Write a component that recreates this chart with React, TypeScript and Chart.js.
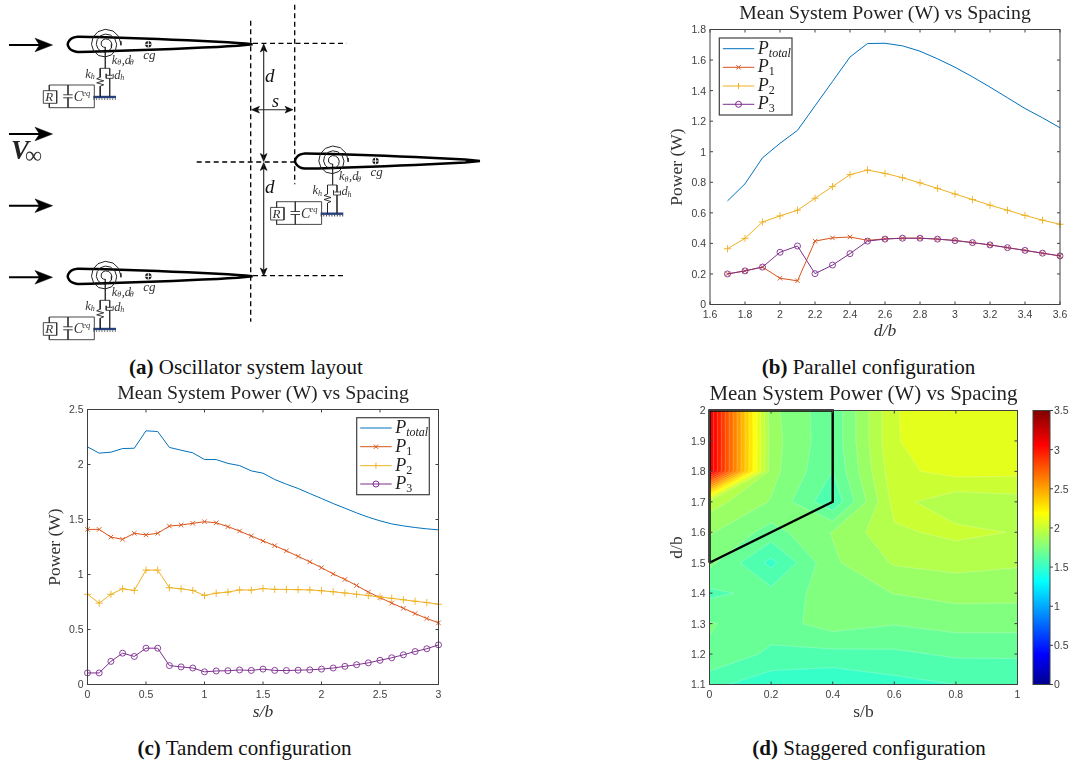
import { useEffect, useRef } from 'react';
import { Chart, registerables } from 'chart.js';

Chart.register(...registerables);

// ---------- data: panel (b) parallel ----------
const dOverB = [1.7, 1.8, 1.9, 2.0, 2.1, 2.2, 2.3, 2.4, 2.5, 2.6, 2.7, 2.8, 2.9, 3.0, 3.1, 3.2, 3.3, 3.4, 3.5, 3.6];
const parTotal = [0.678, 0.79, 0.96, 1.055, 1.14, 1.3, 1.46, 1.62, 1.708, 1.71, 1.693, 1.658, 1.608, 1.553, 1.49, 1.423, 1.353, 1.283, 1.222, 1.157];
const parP1 = [0.2, 0.22, 0.245, 0.172, 0.155, 0.415, 0.436, 0.442, 0.42, 0.43, 0.434, 0.434, 0.428, 0.42, 0.405, 0.39, 0.372, 0.354, 0.336, 0.318];
const parP2 = [0.365, 0.433, 0.54, 0.58, 0.617, 0.695, 0.772, 0.85, 0.88, 0.858, 0.83, 0.796, 0.76, 0.723, 0.687, 0.65, 0.617, 0.583, 0.552, 0.525];
const parP3 = [0.2, 0.22, 0.245, 0.342, 0.383, 0.202, 0.258, 0.333, 0.415, 0.428, 0.434, 0.434, 0.428, 0.418, 0.405, 0.39, 0.372, 0.354, 0.336, 0.318];

// ---------- data: panel (c) tandem ----------
const sOverB = [0, 0.1, 0.2, 0.3, 0.4, 0.5, 0.6, 0.7, 0.8, 0.9, 1, 1.1, 1.2, 1.3, 1.4, 1.5, 1.6, 1.7, 1.8, 1.9, 2, 2.1, 2.2, 2.3, 2.4, 2.5, 2.6, 2.7, 2.8, 2.9, 3];
const tanTotal = [2.16, 2.103, 2.112, 2.145, 2.148, 2.306, 2.3, 2.155, 2.13, 2.106, 2.045, 2.045, 2.01, 1.99, 1.942, 1.921, 1.864, 1.821, 1.782, 1.736, 1.691, 1.645, 1.603, 1.56, 1.521, 1.488, 1.46, 1.442, 1.427, 1.415, 1.406];
const tanP1 = [1.41, 1.41, 1.34, 1.32, 1.375, 1.36, 1.375, 1.44, 1.45, 1.465, 1.48, 1.47, 1.435, 1.395, 1.35, 1.305, 1.262, 1.215, 1.165, 1.115, 1.062, 1.005, 0.955, 0.9, 0.84, 0.79, 0.74, 0.693, 0.645, 0.6, 0.56];
const tanP2 = [0.82, 0.74, 0.82, 0.87, 0.855, 1.04, 1.04, 0.88, 0.87, 0.855, 0.81, 0.83, 0.84, 0.86, 0.858, 0.872, 0.865, 0.864, 0.862, 0.86, 0.852, 0.843, 0.832, 0.82, 0.808, 0.795, 0.783, 0.77, 0.757, 0.745, 0.73];
const tanP3 = [0.105, 0.105, 0.21, 0.285, 0.255, 0.33, 0.33, 0.172, 0.16, 0.15, 0.115, 0.123, 0.125, 0.132, 0.128, 0.14, 0.128, 0.127, 0.13, 0.133, 0.14, 0.15, 0.165, 0.18, 0.197, 0.22, 0.243, 0.27, 0.3, 0.325, 0.36];

// ---------- data: panel (d) staggered contour ----------
const gridS = [0, 0.2, 0.4, 0.6, 0.8, 1];
const gridD = [1.1, 1.2, 1.3, 1.4, 1.5, 1.6, 1.7, 1.8, 1.9, 2.0];
const gridPower = [
  [1.61, 1.53, 1.51, 1.556, 1.585, 1.61],
  [1.745, 1.651, 1.645, 1.653, 1.683, 1.68],
  [1.761, 1.714, 1.794, 1.76, 1.786, 1.787],
  [1.65, 1.7, 1.796, 1.842, 1.869, 1.865],
  [1.78, 1.56, 1.825, 1.934, 1.954, 1.937],
  [1.85, 1.72, 1.845, 1.995, 2.032, 2.005],
  [1.965, 1.833, 1.6, 2.04, 1.951, 1.975],
  [3.2, 1.87, 1.67, 2.071, 2.127, 2.117],
  [3.2, 1.875, 1.69, 2.09, 2.14, 2.13],
  [3.2, 1.866, 1.69, 2.09, 2.15, 2.13],
];
const contourLevels = [1.5, 1.585, 1.67, 1.755, 1.84, 1.925, 2.01, 2.095, 2.18, 2.265, 2.35, 2.435, 2.52, 2.605, 2.69, 2.775, 2.86, 2.945, 3.03, 3.115];
const regionS = [0, 0.4, 0.4, 0, 0];
const regionD = [1.5, 1.7, 2, 2, 1.5];
const colorbarRange = [0, 3.5];
const jetStops = ['#00008f', '#0000ff', '#00ffff', '#ffff00', '#ff0000', '#800000'];
const jetStopAt = [0, 0.11, 0.375, 0.625, 0.875, 1];

// ---------- data: panel (a) diagram, in diagram units ----------
const flowArrowY = [45, 134, 205.7, 277.3];
const foilOrigins = [[67.7, 44.3], [295, 161], [67.7, 276.3]];
const foilShape = [[185, 0], [170, -1.4], [150, -2.6], [120, -4], [90, -5.2], [60, -6.2], [30, -7.2], [10, -7.6], [5, -6.4], [1.5, -3.6], [0, 0], [1.5, 3.6], [5, 6.4], [10, 7.6], [30, 7.2], [60, 6.2], [90, 5.2], [120, 4], [150, 2.6], [170, 1.4], [185, 0]];
const spiralCentre = 37.6;
const spiralShape = [[0, 3], [-1.7, 2.9], [-3.3, 1.9], [-4.2, 0], [-4, -2.3], [-2.5, -4.3], [0, -5.4], [2.9, -5], [5.4, -3.1], [6.6, 0], [6.1, 3.5], [3.7, 6.4], [0, 7.8], [-4.1, 7.1], [-7.4, 4.3], [-9, 0], [-8.1, -4.7], [-4.9, -8.5], [0, -10.2], [5.3, -9.2], [9.5, -5.5], [11.4, 0], [10.2, 5.9], [6.1, 10.6], [0, 12.6], [-6.5, 11.3], [-11.6, 6.7], [-13.8, 0], [-12.3, -7.1], [-7.3, -12.6], [0, -15], [7.7, -13.3], [13.5, -7.8], [15.6, 0]];
const springShape = [[32.5, 24], [32.5, 33], [29, 34.5], [36, 36.5], [29, 38.5], [36, 40.5], [32.5, 42], [32.5, 52.7]];
const wireShapes = [
  [[37.6, 3], [37.6, 24]], [[32.5, 24], [42, 24]], [[42, 24], [42, 31]], [[39.3, 31], [44.7, 31]],
  [[38.5, 29.5], [38.5, 34], [45.5, 34], [45.5, 29.5]], [[42, 34], [42, 52.7]],
  [[26.6, 52.7], [26.6, 40.7], [-18.4, 40.7], [-18.4, 46.4]], [[-18.4, 59], [-18.4, 63.4], [26.6, 63.4], [26.6, 52.7]],
  [[-24.4, 46.4], [-11, 46.4], [-11, 59], [-24.4, 59], [-24.4, 46.4]],
  [[0.3, 40.7], [0.3, 50.5]], [[0.3, 53.5], [0.3, 63.4]], [[-4.5, 50.5], [5, 50.5]], [[-4.5, 53.5], [5, 53.5]],
  [[53.2, -3], [53.2, 1]],
];
const dashedLines = [
  [[250.7, 20.7], [250.7, 321.7]], [[294.7, 4.7], [294.7, 184.3]],
  [[253, 43.3], [346.7, 43.3]], [[196.7, 162], [295, 162]], [[253, 275.7], [344, 275.7]],
];
const foilLabels = [
  { t: 'k', x: 44, y: 16, s: 12.5 }, { t: 'θ', x: 49.5, y: 19, s: 8 }, { t: ',d', x: 54, y: 16, s: 12.5 }, { t: 'θ', x: 62, y: 19, s: 8 },
  { t: 'k', x: 17.5, y: 30, s: 12.5 }, { t: 'h', x: 23, y: 33, s: 8 }, { t: 'd', x: 46.5, y: 31, s: 12.5 }, { t: 'h', x: 52.5, y: 33.5, s: 8 },
  { t: 'R', x: -22.5, y: 53.5, s: 13 }, { t: 'C', x: 6, y: 53, s: 14 }, { t: 'eq', x: 14.5, y: 49, s: 8.5 }, { t: 'cg', x: 75.5, y: 11.5, s: 13 },
];
const dimLabels = [
  { t: 'd', x: 265, y: 77, s: 19 }, { t: 'd', x: 265, y: 188, s: 19 }, { t: 's', x: 272, y: 102, s: 18 },
];

// ---------- styles ----------
const SERIES = ['#0072BD', '#D95319', '#EDB120', '#7E2F8E'];
const AXIS = '#404040';
const SERIF = '"Liberation Serif"';
const SANS = '"Liberation Sans"';

function jet(v: number) {
  const t = v / 3.5;
  const c = (x: number) => Math.round(255 * Math.max(0, Math.min(1, x)));
  return `rgb(${c(Math.min(4 * t - 1.5, 4.5 - 4 * t))},${c(Math.min(4 * t - 0.5, 3.5 - 4 * t))},${c(Math.min(4 * t + 0.5, 2.5 - 4 * t))})`;
}

function framePlugin(tickOut = false) {
  return {
    id: 'frame',
    afterDatasetsDraw(chart: any) {
      const { ctx, chartArea: a, scales } = chart;
      ctx.save();
      ctx.strokeStyle = AXIS;
      ctx.lineWidth = 1;
      ctx.strokeRect(a.left, a.top, a.right - a.left, a.bottom - a.top);
      ctx.beginPath();
      const L = 3;
      if (scales.x && scales.x.options.display !== false) {
        scales.x.ticks.forEach((_: any, i: number) => {
          const px = scales.x.getPixelForTick(i);
          ctx.moveTo(px, a.bottom); ctx.lineTo(px, a.bottom - L);
          ctx.moveTo(px, a.top); ctx.lineTo(px, a.top + L);
        });
      }
      scales.y.ticks.forEach((_: any, i: number) => {
        const py = scales.y.getPixelForTick(i);
        if (tickOut) {
          ctx.moveTo(a.right, py); ctx.lineTo(a.right + L, py);
        } else {
          ctx.moveTo(a.left, py); ctx.lineTo(a.left + L, py);
          ctx.moveTo(a.right, py); ctx.lineTo(a.right - L, py);
        }
      });
      ctx.stroke();
      ctx.restore();
    },
  };
}

function legendPlugin(box: { x: number; y: number; w: number; h: number; rows: number[] }) {
  return {
    id: 'mathLegend',
    afterDatasetsDraw(chart: any) {
      const { ctx } = chart;
      ctx.save();
      ctx.fillStyle = '#fff';
      ctx.strokeStyle = AXIS;
      ctx.lineWidth = 1.2;
      ctx.fillRect(box.x, box.y, box.w, box.h);
      ctx.strokeRect(box.x, box.y, box.w, box.h);
      chart.data.datasets.forEach((ds: any, i: number) => {
        const y = box.rows[i];
        const x0 = box.x + 3.5, x1 = box.x + 35, xm = (x0 + x1) / 2;
        ctx.strokeStyle = ds.borderColor;
        ctx.lineWidth = 1;
        ctx.beginPath();
        ctx.moveTo(x0, y); ctx.lineTo(x1, y);
        const r = ds.pointRadius;
        if (ds.pointStyle === 'crossRot') {
          ctx.moveTo(xm - 2.2, y - 2.2); ctx.lineTo(xm + 2.2, y + 2.2);
          ctx.moveTo(xm - 2.2, y + 2.2); ctx.lineTo(xm + 2.2, y - 2.2);
        } else if (ds.pointStyle === 'cross') {
          ctx.moveTo(xm, y - 3); ctx.lineTo(xm, y + 3);
        } else if (ds.pointStyle === 'circle' && r > 0) {
          ctx.moveTo(xm + r, y); ctx.arc(xm, y, r, 0, Math.PI * 2);
        }
        ctx.stroke();
        const [main, sub] = ds.label.split('_');
        ctx.fillStyle = '#222';
        ctx.textBaseline = 'alphabetic';
        ctx.textAlign = 'left';
        ctx.font = `italic 18px ${SERIF}`;
        const tx = box.x + 38.5;
        ctx.fillText(main, tx, y + 5);
        const w = ctx.measureText(main).width;
        ctx.font = `${/\d/.test(sub) ? '' : 'italic '}12px ${SERIF}`;
        ctx.fillText(sub, tx + w, y + 8);
      });
      ctx.restore();
    },
  };
}

type Panel = {
  x0: number; y0: number; W: number; H: number;
  l: number; t: number; r: number; b: number;
  titleCY: number; titleSize: number; yW: number; xH: number;
};

function frameLayout(p: Panel) {
  const lh = p.titleSize * 1.2;
  const top = p.titleCY - p.y0 - lh / 2;
  return {
    layout: { autoPadding: false, padding: { left: p.l - p.x0 - p.yW, right: p.x0 + p.W - p.r, top: 0, bottom: p.y0 + p.H - p.b - p.xH } },
    title: {
      display: true,
      text: 'Mean System Power (W) vs Spacing',
      color: '#222',
      fullSize: false,
      font: { family: SERIF, size: p.titleSize, weight: 'normal' as const, lineHeight: 1.2 },
      padding: { top, bottom: p.t - p.y0 - lh - top },
    },
  };
}

const fmt = (v: any) => String(+Number(v).toFixed(2));

function axis(p: Panel, horizontal: boolean, min: number, max: number, step: number, title: string, italic: boolean) {
  return {
    type: 'linear' as const,
    min, max,
    grid: { display: false, drawTicks: false },
    border: { display: false },
    ticks: {
      stepSize: step, callback: fmt, autoSkip: false, maxRotation: 0, minRotation: 0, padding: horizontal ? 4.5 : 4,
      labelOffset: horizontal ? 0 : 1,
      color: AXIS, font: { family: SANS, size: 10.5, lineHeight: 1.2 },
    },
    title: {
      display: true, text: title, color: '#333', padding: 0,
      font: { family: SERIF, size: 17.5, style: (italic ? 'italic' : 'normal') as any, lineHeight: 1.2 },
    },
    afterFit: (s: any) => {
      if (horizontal) { s.height = p.xH; s.paddingLeft = 0; s.paddingRight = 0; }
      else { s.width = p.yW; s.paddingTop = 0; s.paddingBottom = 0; }
    },
  };
}

function powerChart(canvas: HTMLCanvasElement, p: Panel, xs: number[], series: number[][], xr: number[], yr: number[], xTitle: string, box: any) {
  const styles = [
    { pointStyle: false, pointRadius: 0 },
    { pointStyle: 'crossRot', pointRadius: 3.2 },
    { pointStyle: 'cross', pointRadius: 3.6 },
    { pointStyle: 'circle', pointRadius: 3 },
  ];
  const labels = ['P_total', 'P_1', 'P_2', 'P_3'];
  const f = frameLayout(p);
  return new Chart(canvas, {
    type: 'scatter',
    data: {
      datasets: series.map((v, i) => ({
        label: labels[i],
        order: series.length - i,
        data: xs.map((x, k) => ({ x, y: v[k] })),
        showLine: true,
        borderColor: SERIES[i],
        pointBorderColor: SERIES[i],
        backgroundColor: 'transparent',
        pointBackgroundColor: 'transparent',
        borderWidth: 1,
        pointBorderWidth: 0.9,
        clip: false as any,
        ...styles[i],
      })),
    } as any,
    options: {
      responsive: false,
      animation: false,
      layout: f.layout,
      scales: {
        x: axis(p, true, xr[0], xr[1], xr[2], xTitle, true),
        y: axis(p, false, yr[0], yr[1], yr[2], 'Power (W)', false),
      },
      plugins: { legend: { display: false }, tooltip: { enabled: false }, title: f.title },
    } as any,
    plugins: [framePlugin(), legendPlugin(box)] as any,
  });
}

function clipAbove(poly: any[], level: number) {
  const out: any[] = [];
  for (let i = 0; i < poly.length; i++) {
    const a = poly[i], b = poly[(i + 1) % poly.length];
    if (a.z >= level) out.push(a);
    if ((a.z >= level) !== (b.z >= level)) {
      const f = (level - a.z) / (b.z - a.z);
      out.push({ x: a.x + f * (b.x - a.x), y: a.y + f * (b.y - a.y), z: level, on: level });
    }
  }
  return out;
}

const contourPlugin = {
  id: 'contourBands',
  beforeDatasetsDraw(chart: any) {
    const { ctx, chartArea: a, scales } = chart;
    const px = (s: number) => scales.x.getPixelForValue(s);
    const py = (d: number) => scales.y.getPixelForValue(d);
    ctx.save();
    ctx.fillStyle = jet(contourLevels[0]);
    ctx.fillRect(a.left, a.top, a.right - a.left, a.bottom - a.top);
    contourLevels.slice(1).forEach((level) => {
      const segs: any[] = [];
      ctx.beginPath();
      for (let j = 0; j < gridD.length - 1; j++) {
        for (let i = 0; i < gridS.length - 1; i++) {
          const quad = [
            { x: px(gridS[i]), y: py(gridD[j]), z: gridPower[j][i] },
            { x: px(gridS[i + 1]), y: py(gridD[j]), z: gridPower[j][i + 1] },
            { x: px(gridS[i + 1]), y: py(gridD[j + 1]), z: gridPower[j + 1][i + 1] },
            { x: px(gridS[i]), y: py(gridD[j + 1]), z: gridPower[j + 1][i] },
          ];
          const poly = clipAbove(quad, level);
          if (poly.length < 3) continue;
          poly.forEach((pt, k) => {
            if (k === 0) ctx.moveTo(pt.x, pt.y); else ctx.lineTo(pt.x, pt.y);
            const nx = poly[(k + 1) % poly.length];
            if (pt.on === level && nx.on === level) segs.push([pt, nx]);
          });
          ctx.closePath();
        }
      }
      ctx.fillStyle = jet(level);
      ctx.fill();
      ctx.beginPath();
      segs.forEach(([m, n]) => { ctx.moveTo(m.x, m.y); ctx.lineTo(n.x, n.y); });
      ctx.strokeStyle = 'rgba(255,255,255,0.32)';
      ctx.lineWidth = 0.7;
      ctx.stroke();
    });
    ctx.restore();
  },
};

function contourChart(canvas: HTMLCanvasElement, p: Panel) {
  const f = frameLayout(p);
  return new Chart(canvas, {
    type: 'scatter',
    data: {
      datasets: [{
        label: 'region',
        data: regionS.map((x, k) => ({ x, y: regionD[k] })),
        showLine: true, borderColor: '#000', borderWidth: 2.4, pointRadius: 0,
        borderJoinStyle: 'miter', clip: false as any,
      }],
    } as any,
    options: {
      responsive: false,
      animation: false,
      layout: f.layout,
      scales: {
        x: axis(p, true, 0, 1, 0.2, 's/b', false),
        y: axis(p, false, 1.1, 2, 0.1, 'd/b', false),
      },
      plugins: { legend: { display: false }, tooltip: { enabled: false }, title: f.title },
    } as any,
    plugins: [contourPlugin, framePlugin()] as any,
  });
}

function colorbarChart(canvas: HTMLCanvasElement, top: number, bottom: number, left: number, right: number, y0: number, x0: number, W: number, H: number) {
  return new Chart(canvas, {
    type: 'bar',
    data: {
      labels: ['Power'],
      datasets: [{
        data: [colorbarRange] as any,
        barPercentage: 1,
        categoryPercentage: 1,
        backgroundColor: (c: any) => {
          const a = c.chart.chartArea;
          if (!a) return '#888';
          const g = c.chart.ctx.createLinearGradient(0, a.bottom, 0, a.top);
          jetStops.forEach((col, i) => g.addColorStop(jetStopAt[i], col));
          return g;
        },
      }],
    },
    options: {
      responsive: false,
      animation: false,
      layout: { autoPadding: false, padding: { left: left - x0, right: x0 + W - right - 19, top: top - y0, bottom: y0 + H - bottom } },
      scales: {
        x: { display: false },
        y: {
          position: 'right', min: 0, max: 3.5,
          grid: { display: false, drawTicks: false }, border: { display: false },
          ticks: { stepSize: 0.5, callback: fmt, padding: 4, labelOffset: 1, color: AXIS, font: { family: SANS, size: 10.5, lineHeight: 1.2 } },
          afterFit: (s: any) => { s.width = 19; s.paddingTop = 0; s.paddingBottom = 0; },
        },
      },
      plugins: { legend: { display: false }, tooltip: { enabled: false } },
    } as any,
    plugins: [framePlugin(true)] as any,
  });
}

const diagramText = {
  id: 'diagramText',
  afterDatasetsDraw(chart: any) {
    const { ctx, scales } = chart;
    const draw = (t: string, x: number, y: number, s: number, color: string, weight = '') => {
      ctx.font = `${weight} italic ${s}px ${SERIF}`;
      ctx.fillStyle = color;
      ctx.textBaseline = 'middle';
      ctx.textAlign = 'left';
      ctx.fillText(t, scales.x.getPixelForValue(x), scales.y.getPixelForValue(y));
    };
    ctx.save();
    foilOrigins.forEach(([ox, oy]) => foilLabels.forEach((l) => draw(l.t, ox + l.x, oy + l.y, l.s, '#333')));
    dimLabels.forEach((l) => draw(l.t, l.x, l.y, l.s, '#111'));
    draw('V', 11, 152, 27, '#222', 'bold');
    ctx.font = `24px ${SERIF}`;
    ctx.fillStyle = '#333';
    ctx.textBaseline = 'middle';
    ctx.fillText('∞', scales.x.getPixelForValue(25), scales.y.getPixelForValue(157));
    ctx.restore();
  },
};

function diagramChart(canvas: HTMLCanvasElement) {
  const pts = (arr: number[][], ox = 0, oy = 0) => arr.map(([x, y]) => ({ x: x + ox, y: y + oy }));
  const line = (data: any[], color = '#000', w = 1, extra: any = {}) => ({
    data, showLine: true, borderColor: color, borderWidth: w, pointRadius: 0, ...extra,
  });
  const head = (tx: number, ty: number, dx: number, dy: number, len: number, half: number, notch: number) => {
    const nx = -dy, ny = dx;
    return line(pts([
      [tx, ty],
      [tx - dx * len + nx * half, ty - dy * len + ny * half],
      [tx - dx * notch, ty - dy * notch],
      [tx - dx * len - nx * half, ty - dy * len - ny * half],
      [tx, ty],
    ]), '#000', 0.5, { fill: 'shape', backgroundColor: '#000' });
  };
  const ds: any[] = [];
  flowArrowY.forEach((y) => {
    ds.push(line(pts([[9, y], [42, y]]), '#000', 2));
    ds.push(head(52.5, y, 1, 0, 17.5, 6.8, 13));
  });
  dashedLines.forEach((l) => ds.push(line(pts(l), '#000', 1.3, { borderDash: [5, 3.5] })));
  ds.push(line(pts([[263.7, 46], [263.7, 160]]), '#222', 1.1));
  ds.push(line(pts([[263.7, 164], [263.7, 274]]), '#222', 1.1));
  ds.push(head(263.7, 44, 0, -1, 8, 3.4, 6));
  ds.push(head(263.7, 161.5, 0, 1, 8, 3.4, 6));
  ds.push(head(263.7, 162.5, 0, -1, 8, 3.4, 6));
  ds.push(head(263.7, 276, 0, 1, 8, 3.4, 6));
  ds.push(line(pts([[253, 109.7], [291, 109.7]]), '#222', 1.1));
  ds.push(head(251.5, 109.7, -1, 0, 8, 3.4, 6));
  ds.push(head(293, 109.7, 1, 0, 8, 3.4, 6));
  foilOrigins.forEach(([ox, oy]) => {
    ds.push({ data: pts([[80.6, 0]], ox, oy), pointStyle: 'cross', pointRadius: 3.2, pointBorderColor: '#fff', pointBorderWidth: 1 });
    ds.push({ data: pts([[80.6, 0]], ox, oy), pointStyle: 'circle', pointRadius: 3, pointBackgroundColor: '#111', pointBorderColor: '#111', pointBorderWidth: 0.5 });
    ds.push(line(pts(spiralShape, ox + spiralCentre, oy), '#222', 1));
    ds.push(line(pts(foilShape, ox, oy), '#000', 2.5, { borderJoinStyle: 'round', tension: 0.15 }));
    ds.push(line(pts(springShape, ox, oy), '#222', 0.9));
    wireShapes.forEach((w) => ds.push(line(pts(w, ox, oy), '#333', 0.9)));
    ds.push(line(pts([[25.6, 52.7], [48.3, 52.7]], ox, oy), '#26407f', 2.4));
    ds.push(line(pts([[25.6, 54.8], [48.3, 54.8]], ox, oy), '#444', 1.4, { borderDash: [1, 1.7] }));
  });
  return new Chart(canvas, {
    type: 'scatter',
    data: { datasets: ds },
    options: {
      responsive: false,
      animation: false,
      layout: { autoPadding: false, padding: 0 },
      scales: {
        x: { type: 'linear', display: false, min: 0, max: 500 },
        y: { type: 'linear', display: false, min: 0, max: 350, reverse: true },
      },
      plugins: { legend: { display: false }, tooltip: { enabled: false } },
    } as any,
    plugins: [diagramText] as any,
  });
}

const panelB: Panel = { x0: 660, y0: 0, W: 409, H: 345, l: 710, t: 29.5, r: 1060, b: 304.5, titleCY: 14, titleSize: 19.8, yW: 42.7, xH: 37.5 };
const panelC: Panel = { x0: 30, y0: 380, W: 430, H: 345, l: 87.5, t: 409.5, r: 438.5, b: 684.5, titleCY: 394, titleSize: 19.8, yW: 42.9, xH: 38 };
const panelD: Panel = { x0: 660, y0: 380, W: 365, H: 345, l: 709.5, t: 410.5, r: 1017.5, b: 684.5, titleCY: 395, titleSize: 20.9, yW: 42.4, xH: 38 };

const captions = [
  { b: '(a)', t: ' Oscillator system layout', x: 246, y: 367 },
  { b: '(b)', t: ' Parallel configuration', x: 868.5, y: 367 },
  { b: '(c)', t: ' Tandem configuration', x: 244.5, y: 747.5 },
  { b: '(d)', t: ' Staggered configuration', x: 869, y: 747.5 },
];

export default function App() {
  const a = useRef<HTMLCanvasElement>(null);
  const b = useRef<HTMLCanvasElement>(null);
  const c = useRef<HTMLCanvasElement>(null);
  const d = useRef<HTMLCanvasElement>(null);
  const e = useRef<HTMLCanvasElement>(null);

  useEffect(() => {
    const charts = [
      diagramChart(a.current!),
      powerChart(b.current!, panelB, dOverB, [parTotal, parP1, parP2, parP3], [1.6, 3.6, 0.2], [0, 1.8, 0.2], 'd/b',
        { x: 59.3, y: 38, w: 72.7, h: 77, rows: [48.7, 67.3, 86, 104.3] }),
      powerChart(c.current!, panelC, sOverB, [tanTotal, tanP1, tanP2, tanP3], [0, 3, 0.5], [0, 2.5, 0.5], 's/b',
        { x: 326.7, y: 37.7, w: 72.6, h: 77, rows: [48, 66.7, 85.7, 104] }),
      contourChart(d.current!, panelD),
      colorbarChart(e.current!, 410.5, 684.5, 1033, 1050, 400, 1025, 44, 295),
    ];
    return () => charts.forEach((ch) => ch.destroy());
  }, []);

  const place = (x: number, y: number): any => ({ position: 'absolute', left: x, top: y, display: 'block' });
  return (
    <div style={{ position: 'absolute', left: 0, top: 0, width: 1069, height: 764, overflow: 'hidden', background: '#fff' }}>
      <canvas ref={a} width={500} height={350} style={place(0, 0)} />
      <canvas ref={b} width={panelB.W} height={panelB.H} style={place(panelB.x0, panelB.y0)} />
      <canvas ref={c} width={panelC.W} height={panelC.H} style={place(panelC.x0, panelC.y0)} />
      <canvas ref={d} width={panelD.W} height={panelD.H} style={place(panelD.x0, panelD.y0)} />
      <canvas ref={e} width={44} height={295} style={place(1025, 400)} />
      {captions.map((cap) => (
        <div key={cap.b} style={{ position: 'absolute', left: cap.x, top: cap.y, transform: 'translate(-50%,-50%)', whiteSpace: 'pre', font: `21px ${SERIF}`, color: '#111' }}>
          <b>{cap.b}</b>{cap.t}
        </div>
      ))}
    </div>
  );
}
